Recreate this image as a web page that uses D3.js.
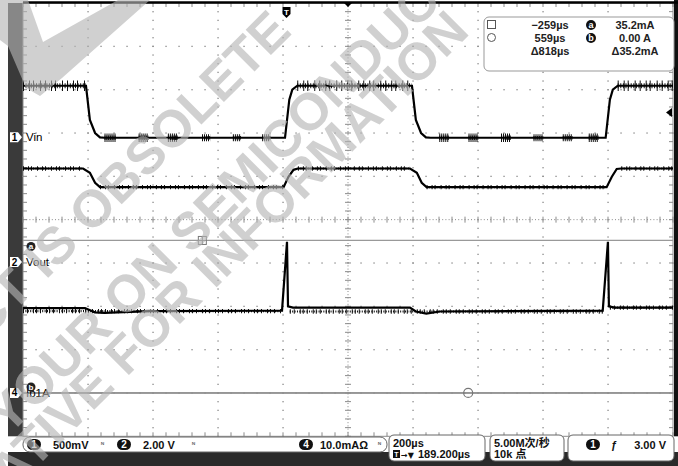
<!DOCTYPE html>
<html><head><meta charset="utf-8">
<script src="https://cdn.jsdelivr.net/npm/d3@7"></script>
<style>body{margin:0;background:#fff}svg{display:block}</style>
</head><body>
<svg id="c" width="678" height="466"></svg>
<script>
// ---- data (time in µs relative to trigger, vertical in divisions from screen centre) ----
const timePerDiv = 200;           // µs/div
const centreTime = 189.2;         // µs (T→▼189.200µs)
const traceA = [[-810.8,3.09],[-617,3.09],[-605,2.30],[-589,2.0],[-574,1.90],[-560,1.89],[-4.6,1.89],[8.6,2.77],[17.8,3.0],[33,3.09],[386,3.09],[398,2.30],[414,2.0],[429,1.90],[443,1.89],[982,1.89],[995,2.77],[1004,3.0],[1019,3.09],[1189.2,3.09]];
const traceB = [[-810.8,1.18],[-626,1.18],[-605,1.08],[-589,0.85],[-574,0.75],[-9,0.75],[6,0.99],[21.5,1.15],[35,1.18],[380,1.18],[401,1.08],[416,0.85],[431,0.75],[985,0.75],[1001,0.99],[1016,1.17],[1030,1.18],[1189.2,1.18]];
const vout   = [[-810.8,-2.04],[-620,-2.04],[-590,-2.14],[-560,-2.15],[-420,-2.11],[-13.8,-2.10],[1.5,-0.51],[4.6,-2.0],[20,-2.03],[380,-2.03],[398,-2.12],[430,-2.17],[472,-2.12],[973,-2.10],[989,-0.51],[992,-2.0],[1010,-2.03],[1189.2,-2.03]];
const ch4mA  = [[-810.8,0],[1189.2,0]];
const ch4Ground = -4;             // div
const ch4mAPerDiv = 10;
const cursorTimes = [-259, 559];  // µs
const cursorLevels = [35.2, 0.00];// mA
// noise bands: [t0, t1, half-amplitude div]
const noiseA = [[-810.8,-617,0.12],[33,386,0.12],[1019,1189.2,0.12]];
const burstsA = [[-560,-525,0.1],[-455,-425,0.1],[-365,-335,0.1],[-260,-235,0.08],[-165,-140,0.08],[-75,-50,0.08],[470,500,0.1],[560,590,0.1],[660,690,0.1],[760,790,0.08],[850,880,0.08],[930,960,0.1]];
const noiseB = [[-810.8,-626,0.05],[-574,-9,0.05],[35,380,0.05],[431,985,0.05],[1030,1189.2,0.05]];
const noiseV = [[-810.8,-13.8,0.05],[10,973,0.05],[995,1189.2,0.05]];

const readoutTimes = ["−259µs","559µs","Δ818µs"];
const readoutLevels = ["35.2mA","0.00 A","Δ35.2mA"];
const chanLabels = [{ch:"1",name:"Vin",div:1.9},{ch:"2",name:"Vout",div:-0.98},{ch:"4",name:"Ib1A",div:-4}];
const watermarkParts = [["THIS PRODUCT IS OBSOLETE","end",293,33],["CONTACT YOUR ON","end",180,265],["SEMICONDUCTOR","start",191,255],["REPRESENTATIVE FOR INFORMATION","end",471,33]];

// ---- layout ----
const W=678,H=466;
const L=23,R=673,T=3,B=436.3;
const x=d3.scaleLinear().domain([centreTime-5*timePerDiv, centreTime+5*timePerDiv]).range([L,R]);
const y=d3.scaleLinear().domain([-5,5]).range([B,T]);
const svg=d3.select("#c");
const F="'Liberation Sans',Arial,sans-serif";

// left bar, right black strip
svg.append("rect").attr("x",8).attr("y",3).attr("width",L-8).attr("height",B-3).attr("fill","#3a3a3a");
svg.append("rect").attr("x",R+1).attr("y",0).attr("width",W-R-1).attr("height",B).attr("fill","#111");

// graticule
const g=svg.append("g");
const dx=(R-L)/10, dy=(B-T)/10;
for(let i=1;i<10;i++){ if(i===5) continue;
  for(let k=0;k<=50;k++) g.append("rect").attr("x",L+i*dx-0.6).attr("y",T+k*dy/5-0.6).attr("width",1.3).attr("height",1.3).attr("fill","#8a8a8a");
}
for(let j=1;j<10;j++){ if(j===5) continue;
  for(let k=0;k<=50;k++) g.append("rect").attr("x",L+k*dx/5-0.6).attr("y",T+j*dy-0.6).attr("width",1.3).attr("height",1.3).attr("fill","#8a8a8a");
}
g.append("line").attr("x1",L+5*dx).attr("x2",L+5*dx).attr("y1",T).attr("y2",B).attr("stroke","#8a8a8a").attr("stroke-dasharray","1 2.2");
g.append("line").attr("y1",T+5*dy).attr("y2",T+5*dy).attr("x1",L).attr("x2",R).attr("stroke","#8a8a8a").attr("stroke-dasharray","1 2.2");
for(let k=0;k<=50;k++){
  g.append("line").attr("x1",L+5*dx-3).attr("x2",L+5*dx+3).attr("y1",T+k*dy/5).attr("y2",T+k*dy/5).attr("stroke","#8a8a8a");
  g.append("line").attr("y1",T+5*dy-3).attr("y2",T+5*dy+3).attr("x1",L+k*dx/5).attr("x2",L+k*dx/5).attr("stroke","#8a8a8a");
  g.append("line").attr("x1",L).attr("x2",L+4).attr("y1",T+k*dy/5).attr("y2",T+k*dy/5).attr("stroke","#8a8a8a");
  g.append("line").attr("x1",R-4).attr("x2",R).attr("y1",T+k*dy/5).attr("y2",T+k*dy/5).attr("stroke","#8a8a8a");
  g.append("line").attr("y1",B-4).attr("y2",B).attr("x1",L+k*dx/5).attr("x2",L+k*dx/5).attr("stroke","#8a8a8a");
  g.append("line").attr("y1",T).attr("y2",T+4).attr("x1",L+k*dx/5).attr("x2",L+k*dx/5).attr("stroke","#8a8a8a");
}
g.append("rect").attr("x",L).attr("y",T).attr("width",R-L).attr("height",B-T).attr("fill","none").attr("stroke","#8a8a8a");
svg.append("line").attr("x1",L).attr("x2",W).attr("y1",2.5).attr("y2",2.5).attr("stroke","#000").attr("stroke-width",2.5);

// cursors
const ych4=v=>y(ch4Ground+v/ch4mAPerDiv);
cursorLevels.forEach(v=>svg.append("line").attr("x1",L).attr("x2",R).attr("y1",ych4(v)).attr("y2",ych4(v)).attr("stroke","#999").attr("stroke-width",1.2));

// traces
const line=d3.line().x(d=>x(d[0])).y(d=>y(d[1]));
function levelAt(arr){return t=>{for(let i=1;i<arr.length;i++){if(t<=arr[i][0]){const a=arr[i-1],b=arr[i];return a[1]+(b[1]-a[1])*(t-a[0])/(b[0]-a[0]);}}return arr[arr.length-1][1];};}
function noise(data, levelFn, w1, w2){
  data.forEach(s=>{
    const lv=levelFn((s[0]+s[1])/2), a=(y(0)-y(s[2]));
    svg.append("line").attr("x1",x(s[0])).attr("x2",x(s[1])).attr("y1",y(lv)).attr("y2",y(lv))
      .attr("stroke","#111").attr("stroke-width",2*a).attr("stroke-dasharray",w1);
    svg.append("line").attr("x1",x(s[0])).attr("x2",x(s[1])).attr("y1",y(lv)).attr("y2",y(lv))
      .attr("stroke","#111").attr("stroke-width",a).attr("stroke-dasharray",w2);
  });
}
noise(noiseA, levelAt(traceA), "1 5 1 3 1 6 1 4", "1 1.6");
noise(burstsA, levelAt(traceA), "1 1", "1 0.8");
noise(noiseB, levelAt(traceB), "1 4 1 2 1 5", "1 1.5");
noise(noiseV, levelAt(vout), "1 3 1 5 1 2", "1 1.4");
[traceA,traceB,vout].forEach(d=>svg.append("path").attr("d",line(d)).attr("fill","none").attr("stroke","#000").attr("stroke-width",2.2));
svg.append("path").attr("d",d3.line().x(d=>x(d[0])).y(d=>ych4(d[1]))(ch4mA)).attr("fill","none").attr("stroke","#8c8c8c").attr("stroke-width",1.4);

// cursor markers
const cA=x(cursorTimes[0]), cB=x(cursorTimes[1]), yA=ych4(cursorLevels[0]), yB=ych4(cursorLevels[1]);
svg.append("rect").attr("x",cA-4).attr("y",yA-4).attr("width",8).attr("height",8).attr("fill","#fff").attr("stroke","#777");
svg.append("line").attr("x1",cA-4).attr("x2",cA+4).attr("y1",yA).attr("y2",yA).attr("stroke","#777");
svg.append("line").attr("x1",cA).attr("x2",cA).attr("y1",yA-4).attr("y2",yA+4).attr("stroke","#777");
svg.append("circle").attr("cx",cB).attr("cy",yB).attr("r",4.5).attr("fill","none").attr("stroke","#777").attr("stroke-width",1.2);

// trigger marker & markers
const xt=x(0);
svg.append("path").attr("d",`M${xt-4},7 h8 v7 l-4,4 l-4,-4 z`).attr("fill","#000");
svg.append("text").attr("x",xt).attr("y",15).attr("text-anchor","middle").attr("fill","#fff").attr("font-family",F).attr("font-weight","bold").attr("font-size",8).text("T");
svg.append("path").attr("d",`M${L+5*dx-4},3 h8 l-4,4 z`).attr("fill","#000");
svg.append("path").attr("d",`M${R-1},108 v9 l-6,-4.5 z`).attr("fill","#000");

// channel markers & labels
chanLabels.forEach(c=>{
  const yy=y(c.div);
  svg.append("path").attr("d",`M10,${yy-5} h8 l4,5 l-4,5 h-8 z`).attr("fill","#fff");
  svg.append("text").attr("x",14.5).attr("y",yy+3.5).attr("text-anchor","middle").attr("font-family",F).attr("font-weight","bold").attr("font-size",10).attr("fill","#000").text(c.ch);
  svg.append("text").attr("x",L+3).attr("y",yy+4).attr("font-family",F).attr("font-size",11.5).attr("fill","#000").text(c.name);
});
[["a",yA+6],["b",yB-6]].forEach(m=>{
  svg.append("circle").attr("cx",31).attr("cy",m[1]).attr("r",4.5).attr("fill","#222");
  svg.append("text").attr("x",31).attr("y",m[1]+3).attr("text-anchor","middle").attr("font-family",F).attr("font-weight","bold").attr("font-size",8).attr("fill","#fff").text(m[0]);
});

// readout box
svg.append("rect").attr("x",484).attr("y",17).attr("width",190).attr("height",54).attr("rx",5).attr("fill","#fff").attr("stroke","#999");
svg.append("rect").attr("x",487.5).attr("y",20.5).attr("width",8).attr("height",8).attr("fill","none").attr("stroke","#555");
svg.append("circle").attr("cx",491.5).attr("cy",37.5).attr("r",4).attr("fill","none").attr("stroke","#555");
readoutTimes.forEach((s,i)=>svg.append("text").attr("x",550).attr("y",29+i*13).attr("text-anchor","middle").attr("font-family",F).attr("font-weight","bold").attr("font-size",11).attr("fill","#222").text(s));
readoutLevels.forEach((s,i)=>svg.append("text").attr("x",635).attr("y",29+i*13).attr("text-anchor","middle").attr("font-family",F).attr("font-weight","bold").attr("font-size",11).attr("fill","#222").text(s));
["a","b"].forEach((s,i)=>{svg.append("circle").attr("cx",591).attr("cy",25+i*13).attr("r",5).attr("fill","#111");
  svg.append("text").attr("x",591).attr("y",28+i*13).attr("text-anchor","middle").attr("font-family",F).attr("font-weight","bold").attr("font-size",9).attr("fill","#fff").text(s);});

// bottom status bar
svg.append("rect").attr("x",8).attr("y",452).attr("width",W-8).attr("height",H-452).attr("fill","#2a2a2a");
svg.append("rect").attr("x",23).attr("y",437).attr("width",364).attr("height",15).attr("rx",7).attr("fill","#fff").attr("stroke","#666");
[[389,96],[490,74],[568,106]].forEach(b=>svg.append("rect").attr("x",b[0]).attr("y",435).attr("width",b[1]).attr("height",26).attr("rx",5).attr("fill","#fff").attr("stroke","#666"));
function badge(cx,cy,s){svg.append("rect").attr("x",cx-7).attr("y",cy-5.5).attr("width",14).attr("height",11).attr("rx",5.5).attr("fill","#111");
  svg.append("text").attr("x",cx).attr("y",cy+3.5).attr("text-anchor","middle").attr("font-family",F).attr("font-weight","bold").attr("font-size",10).attr("fill","#fff").text(s);}
const st=(xx,yy,s,anc="start",fam)=>svg.append("text").attr("x",xx).attr("y",yy).attr("text-anchor",anc).attr("font-family",fam||(F+",'Noto Sans CJK SC'")).attr("font-weight","bold").attr("font-size",11).attr("fill","#111").text(s);
function bw(xx){svg.append("text").attr("x",xx).attr("y",447).attr("font-family",F).attr("font-weight","bold").attr("font-size",7).attr("fill","#666").text("ᴺ");}
badge(34,444.5,"1"); st(53,449,"500mV"); bw(101);
badge(124,444.5,"2"); st(143,449,"2.00 V"); bw(192);
badge(306,444.5,"4"); st(320,449,"10.0mAΩ"); bw(378);
st(393,447,"200µs");
svg.append("rect").attr("x",393).attr("y",450).attr("width",7).attr("height",8).attr("fill","#111");
svg.append("text").attr("x",396.5).attr("y",457).attr("text-anchor","middle").attr("font-family",F).attr("font-weight","bold").attr("font-size",7).attr("fill","#fff").text("T");
st(401,458,"→▼","start","'DejaVu Sans'").attr("font-size",8);
st(418,458,"189.200µs");
st(494,447,"5.00M次/秒"); st(494,458,"10k 点");
badge(593,444.5,"1"); st(611,449,"ƒ"); st(666,449,"3.00 V","end");

// watermark
const wm=svg.append("g").attr("fill","rgb(181,181,181)").attr("fill-opacity",0.63);
wm.append("path").attr("d","M0,0 L28,0 L43,42 L118,0 L150,0 L62,78 L40,96 L26,88 L8,46 L0,40 Z");
watermarkParts.forEach(p=>{
  wm.append("text").attr("font-family",F).attr("font-weight","bold").attr("font-size",52)
    .attr("text-anchor",p[1]).attr("transform",`translate(${p[2]},${p[3]}) rotate(-45)`).text(p[0]);
});
</script></body></html>
